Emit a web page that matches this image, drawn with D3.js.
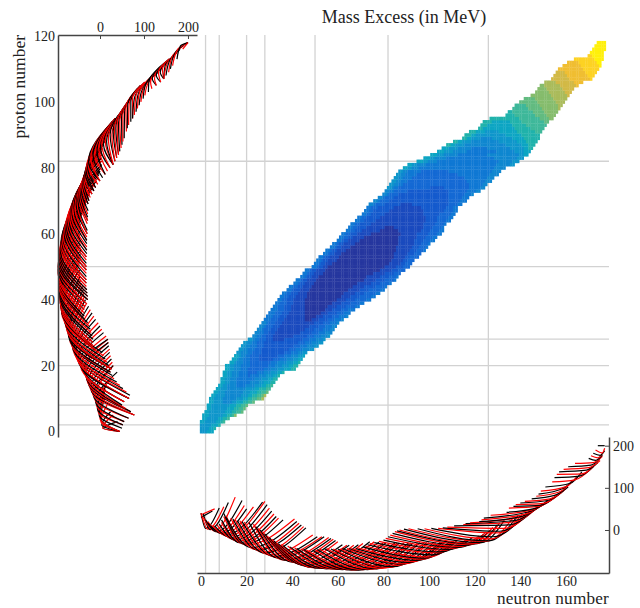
<!DOCTYPE html>
<html>
<head>
<meta charset="utf-8">
<title>Mass Excess</title>
<script src="https://d3js.org/d3.v7.min.js"></script>
<style>
  body { margin: 0; background: #fff; }
  text { font-family: "Liberation Serif", serif; fill: #222; }
</style>
</head>
<body>
<div id="chart"></div>
<script>
"use strict";
// Magic numbers get the grey grid lines
var magicNeutrons = [2, 8, 20, 28, 50, 82, 126];
var magicProtons = [2, 8, 20, 28, 50, 82];
var neutronTicks = [0, 20, 40, 60, 80, 100, 120, 140, 160];
var protonTicks = [0, 20, 40, 60, 80, 100, 120];
var massTicks = [0, 100, 200];

// Mass excess (MeV) of each colour band of the map
var bandMass = [-78, -62, -47, -32, -17, -2, 13, 28, 43, 60, 80, 100, 120, 140, 160, 180, 200];
var bandColor = ["#26379f", "#1a4abe", "#145acd", "#1469d4", "#0f78d4", "#0f87d0", "#0e96cb", "#0ca5c3",
    "#20b2ab", "#3eb89a", "#62bb80", "#85bc6c", "#aabb5a", "#d2b946", "#f0be32", "#fdd223", "#fff00a"];

// One row per proton number: first neutron number, then pairs (band, last neutron number of that band)
var heatRows = [
    [0, 6,2, 7,5],
    [0, 6,3, 7,5, 8,6],
    [0, 6,4, 7,7, 8,8],
    [0, 7,1, 6,6, 7,8, 8,9, 9,10],
    [1, 7,2, 6,7, 7,9, 8,11, 9,12],
    [1, 7,3, 6,9, 7,11, 8,13, 9,14, 11,15],
    [2, 7,3, 6,10, 7,13, 8,15, 9,17, 10,18],
    [3, 7,4, 6,11, 7,14, 8,16, 9,18, 10,19],
    [3, 7,4, 6,12, 7,15, 8,17, 9,19, 10,20],
    [4, 7,5, 6,9, 5,13, 6,15, 7,18, 8,20, 9,22, 10,23],
    [4, 7,5, 6,9, 5,15, 6,18, 7,20, 8,22, 9,24, 10,26, 12,27],
    [5, 7,6, 6,10, 5,17, 6,20, 7,22, 8,24, 9,26, 10,27, 12,28],
    [6, 7,7, 6,10, 5,18, 6,21, 7,24, 8,26, 9,28, 10,29],
    [7, 7,8, 6,11, 5,19, 6,23, 7,25, 8,28, 9,30],
    [8, 7,9, 6,11, 5,15, 4,19, 5,23, 6,26, 7,28, 8,30, 9,31],
    [9, 7,10, 6,12, 5,15, 4,21, 5,25, 6,27, 7,30, 8,32],
    [9, 7,10, 6,12, 5,15, 4,23, 5,26, 6,29, 7,31, 8,33],
    [10, 7,11, 6,13, 5,16, 4,20, 3,21, 4,25, 5,28, 6,31, 7,33, 8,34],
    [10, 7,11, 6,13, 5,16, 4,20, 3,24, 4,27, 5,30, 6,33, 7,35, 8,36],
    [11, 7,12, 6,14, 5,17, 4,20, 3,27, 4,30, 5,33, 6,36, 7,39, 8,41],
    [11, 7,12, 6,14, 5,17, 4,21, 3,29, 4,32, 5,35, 6,38, 7,40, 8,42],
    [13, 7,14, 6,15, 5,18, 4,21, 3,30, 4,33, 5,37, 6,40, 7,42, 8,43],
    [14, 7,15, 6,16, 5,18, 4,21, 3,25, 2,31, 3,34, 4,37, 5,40, 6,42, 7,44],
    [15, 7,16, 6,17, 5,19, 4,21, 3,25, 2,33, 3,36, 4,39, 5,42, 6,44, 7,45],
    [16, 6,17, 5,20, 4,22, 3,26, 2,36, 3,39, 4,42, 5,44, 6,46],
    [17, 6,18, 5,20, 4,23, 3,26, 2,38, 3,41, 4,44, 5,47, 6,49],
    [18, 6,19, 5,21, 4,24, 3,27, 2,40, 3,43, 4,46, 5,49, 6,51],
    [19, 6,20, 5,22, 4,24, 3,27, 2,42, 3,45, 4,48, 5,51, 6,53],
    [21, 6,22, 5,23, 4,25, 3,28, 2,31, 1,36, 2,44, 3,47, 4,50, 5,53, 6,54],
    [23, 5,24, 4,26, 3,28, 2,31, 1,40, 2,46, 3,49, 4,52, 5,55, 6,56],
    [24, 5,25, 4,27, 3,29, 2,32, 1,43, 2,48, 3,51, 4,54, 5,57],
    [25, 5,26, 4,27, 3,30, 2,33, 1,45, 2,49, 3,53, 4,56, 5,58],
    [26, 5,27, 4,28, 3,31, 2,34, 1,47, 2,51, 3,54, 4,57, 5,59],
    [27, 5,28, 4,29, 3,32, 2,35, 1,49, 2,53, 3,56, 4,59, 5,60],
    [28, 4,30, 3,33, 2,36, 1,45, 0,48, 1,51, 2,55, 3,58, 4,61, 5,62],
    [29, 4,31, 3,34, 2,37, 1,45, 0,50, 1,53, 2,57, 3,60, 4,63, 5,64],
    [30, 4,32, 3,35, 2,38, 1,45, 0,52, 1,55, 2,59, 3,62, 4,65],
    [31, 4,33, 3,36, 2,39, 1,45, 0,54, 1,57, 2,61, 3,64, 4,67],
    [32, 4,33, 3,36, 2,39, 1,45, 0,55, 1,59, 2,63, 3,67, 4,69],
    [33, 4,34, 3,37, 2,40, 1,45, 0,57, 1,61, 2,65, 3,69, 4,71],
    [34, 4,35, 3,37, 2,40, 1,45, 0,59, 1,63, 2,67, 3,72, 4,74],
    [35, 4,36, 3,38, 2,41, 1,46, 0,61, 1,65, 2,69, 3,74, 4,76],
    [36, 4,37, 3,39, 2,42, 1,46, 0,62, 1,67, 2,71, 3,76, 4,78],
    [38, 4,39, 3,40, 2,43, 1,47, 0,64, 1,69, 2,73, 3,78, 4,80],
    [39, 4,40, 3,42, 2,44, 1,48, 0,66, 1,71, 2,76, 3,80, 4,81],
    [41, 4,42, 3,43, 2,45, 1,49, 0,68, 1,74, 2,78, 3,82, 4,83],
    [42, 4,43, 3,44, 2,46, 1,50, 0,71, 1,76, 2,80, 3,84, 4,85],
    [44, 4,45, 3,46, 2,48, 1,51, 0,72, 1,78, 2,82, 3,85, 4,86],
    [45, 4,46, 3,47, 2,49, 1,53, 0,75, 1,80, 2,84, 3,87],
    [46, 4,47, 3,48, 2,50, 1,54, 0,78, 1,83, 2,86, 3,89],
    [49, 4,50, 3,51, 2,53, 1,55, 0,80, 1,85, 2,88, 3,91],
    [50, 4,51, 3,52, 2,54, 1,57, 0,82, 1,87, 2,89, 3,92],
    [51, 4,52, 3,53, 2,55, 1,59, 0,83, 1,88, 2,90, 3,93],
    [52, 4,53, 3,54, 2,56, 1,60, 0,84, 1,89, 2,91, 3,95],
    [54, 4,55, 3,56, 2,58, 1,61, 0,84, 1,90, 2,93, 3,96],
    [55, 4,56, 3,57, 2,59, 1,63, 0,85, 1,91, 2,94, 3,97, 4,98],
    [57, 4,58, 3,59, 2,61, 1,65, 0,85, 1,92, 2,95, 3,98, 4,99],
    [58, 4,59, 3,60, 2,62, 1,67, 0,86, 1,93, 2,96, 3,99, 4,100],
    [60, 4,61, 3,62, 2,64, 1,69, 0,86, 1,93, 2,97, 3,100, 4,102],
    [61, 4,62, 3,64, 2,66, 1,71, 0,86, 1,94, 2,98, 3,101, 4,103],
    [62, 4,63, 3,65, 2,68, 1,74, 0,87, 1,94, 2,99, 3,103, 4,105],
    [64, 4,65, 3,67, 2,70, 1,78, 0,86, 1,96, 2,100, 3,104, 4,106],
    [65, 4,66, 3,68, 2,72, 1,80, 0,84, 1,97, 2,101, 3,105, 4,106],
    [66, 4,67, 3,69, 2,74, 1,97, 2,102, 3,106, 4,107],
    [68, 4,69, 3,71, 2,76, 1,98, 2,103, 3,107, 4,109],
    [69, 4,70, 3,72, 2,78, 1,98, 2,103, 3,108, 4,110],
    [71, 4,72, 3,74, 2,80, 1,97, 2,104, 3,109, 4,111],
    [72, 4,73, 3,75, 2,82, 1,97, 2,106, 3,110, 4,112],
    [73, 4,74, 3,77, 2,84, 1,96, 2,107, 3,110, 4,112],
    [74, 5,75, 4,76, 3,80, 2,87, 1,92, 2,108, 3,112, 4,114],
    [76, 5,77, 4,78, 3,82, 2,108, 3,113, 4,116],
    [78, 5,79, 4,80, 3,84, 2,108, 3,114, 4,117],
    [80, 5,81, 4,82, 3,86, 2,108, 3,115, 4,118, 5,119],
    [81, 5,82, 4,84, 3,90, 2,108, 3,116, 4,120, 5,122],
    [82, 6,83, 5,84, 4,86, 3,100, 2,106, 3,117, 4,122, 5,124],
    [83, 6,84, 5,86, 4,88, 3,117, 4,123, 5,125],
    [84, 6,85, 5,87, 4,90, 3,116, 4,124, 5,127],
    [85, 6,86, 5,88, 4,92, 3,115, 4,125, 5,128],
    [86, 6,87, 5,89, 4,94, 3,112, 4,126, 5,130],
    [87, 6,88, 5,90, 4,96, 3,108, 4,127, 5,131],
    [89, 7,90, 6,92, 5,95, 4,128, 5,133],
    [91, 7,92, 6,94, 5,98, 4,129, 5,135, 6,137],
    [95, 7,97, 6,99, 5,103, 4,130, 5,136, 6,139],
    [98, 7,100, 6,102, 5,107, 4,128, 5,138, 6,141],
    [101, 7,103, 6,106, 5,112, 4,125, 5,139, 6,141, 7,143],
    [104, 7,106, 6,110, 5,116, 4,129, 5,137, 6,141, 7,144],
    [106, 7,108, 6,112, 5,118, 4,125, 5,135, 6,141, 7,143, 8,145],
    [108, 8,109, 7,111, 6,115, 5,133, 6,140, 7,143, 8,146],
    [111, 8,112, 7,114, 6,118, 5,130, 6,138, 7,142, 8,147],
    [115, 8,116, 7,118, 6,122, 5,127, 6,136, 7,141, 8,148],
    [116, 8,118, 7,120, 6,133, 7,140, 8,148],
    [118, 8,120, 7,124, 6,130, 7,138, 8,146, 9,149],
    [122, 8,123, 7,137, 8,144, 9,150],
    [123, 8,125, 7,136, 8,142, 9,151],
    [124, 8,127, 7,135, 8,140, 9,150, 10,152],
    [127, 8,139, 9,148, 10,152, 11,154],
    [134, 8,137, 9,146, 10,151, 11,155],
    [135, 8,136, 9,145, 10,150, 11,156],
    [137, 9,143, 10,149, 11,156, 12,157],
    [138, 9,142, 10,148, 11,156, 12,158],
    [140, 10,147, 11,155, 12,159],
    [142, 10,146, 11,154, 12,160],
    [145, 11,153, 12,160, 13,161],
    [147, 11,152, 12,159, 13,162],
    [148, 11,151, 12,158, 13,163],
    [149, 11,150, 12,157, 13,164, 14,165],
    [151, 12,155, 13,163, 14,167],
    [154, 13,161, 14,170, 15,171],
    [155, 13,160, 14,169, 15,172],
    [156, 13,159, 14,168, 15,173],
    [157, 14,167, 15,174],
    [159, 14,166, 15,174, 16,175],
    [161, 14,165, 15,173, 16,175],
    [164, 15,172, 16,176],
    [170, 15,171, 16,176],
    [171, 16,176],
    [172, 16,177],
    [173, 16,177],
    [174, 16,177]
];

// Mass excess at the neutron-poor and neutron-rich end of each proton number row
var edgeMassLeft = [30, 36, 40, 40, 38, 30, 24, 20, 16, 12, 10, 10, 10, 12, 14, 18, 24, 32, 39, 34,
    30, 28, 26, 24, 22, 22, 20, 19, 18, 14, 8, 4, 0, -4, -10, -14, -18, -22, -26, -30,
    -33, -35, -37, -38, -40, -42, -44, -45, -46, -47, -48, -47, -46, -45, -44, -44, -45, -45, -45, -45,
    -44, -44, -44, -44, -44, -43, -40, -38, -35, -32, -30, -27, -24, -20, -16, -12, -8, -4, -2, 0,
    2, 3, 3, 3, 4, 4, 5, 7, 10, 13, 15, 17, 20, 24, 28, 35, 42, 52, 56, 60,
    64, 68, 74, 80, 85, 92, 102, 114, 124, 132, 138, 144, 150, 158, 170, 176, 182, 190, 200];
var edgeMassRight = [45, 50, 52, 55, 65, 78, 70, 58, 50, 55, 66, 68, 60, 52, 45, 38, 32, 28, 24, 26,
    20, 16, 12, 8, 5, -12, -16, -16, -16, -18, -20, -22, -25, -28, -35, -36, -36, -36, -35, -32,
    -28, -28, -29, -30, -31, -31, -31, -31, -31, -31, -31, -31, -31, -31, -30, -30, -30, -30, -30, -30,
    -29, -29, -29, -29, -28, -28, -28, -27, -27, -27, -25, -22, -18, -14, -10, -5, 0, 6, 12, 17,
    23, 30, 34, 38, 42, 45, 48, 50, 52, 55, 57, 60, 62, 65, 70, 74, 78, 82, 85, 89,
    93, 98, 102, 110, 118, 128, 138, 145, 150, 156, 160, 165, 170, 175, 178, 182, 188, 194, 200];

// Bottom of the valley for each neutron number: proton number and mass excess
var valleyZ = [1, 1, 2, 3, 4, 4, 5, 6, 7, 8, 9, 10, 11, 12, 13, 14, 15, 16, 17, 18, 19,
    19, 20, 20, 21, 22, 22, 23, 24, 24, 25, 25, 26, 27, 28, 28, 29, 30, 30, 31, 32,
    32, 33, 33, 34, 35, 36, 36, 37, 38, 39, 39, 40, 40, 41, 42, 42, 43, 43, 44, 45,
    45, 46, 46, 47, 47, 48, 48, 49, 50, 50, 51, 51, 52, 52, 53, 53, 54, 54, 55, 55,
    56, 57, 57, 58, 58, 59, 59, 60, 61, 61, 62, 62, 63, 63, 64, 64, 65, 66, 66, 67,
    67, 68, 68, 69, 70, 70, 71, 71, 72, 72, 73, 73, 74, 75, 75, 76, 76, 77, 77, 78,
    79, 79, 80, 80, 81, 82, 83, 84, 84, 85, 86, 86, 87, 87, 88, 88, 89, 90, 90, 91,
    92, 92, 93, 93, 94, 95, 96, 97, 98, 99, 99, 100, 101, 101, 102, 102, 103, 103, 104, 105,
    105, 106, 106, 107, 107, 108, 109, 109, 110, 111, 112, 113, 114, 115, 116, 117, 118];
var valleyMass = [8, 6, 4, 2, 1, 0, -2, -4, -6, -8, -10, -12, -15, -18, -21, -24, -27, -30, -32, -34, -36,
    -39, -42, -44, -46, -48, -50, -53, -55, -57, -59, -61, -63, -65, -67, -69, -71, -72, -73, -74, -76,
    -77, -78, -79, -81, -83, -85, -87, -88, -89, -90, -90, -91, -91, -91, -92, -92, -92, -93, -93, -93,
    -93, -94, -94, -94, -94, -95, -95, -95, -95, -95, -94, -94, -94, -93, -93, -92, -92, -91, -91, -90,
    -89, -89, -88, -87, -85, -84, -83, -81, -80, -78, -77, -76, -75, -73, -72, -70, -69, -67, -66, -64,
    -62, -59, -57, -54, -52, -50, -48, -47, -46, -44, -43, -42, -41, -39, -38, -37, -36, -35, -34, -33,
    -32, -31, -30, -28, -27, -26, -21, -16, -12, -7, -3, 1, 4, 8, 12, 15, 19, 23, 27, 30,
    33, 36, 39, 42, 45, 49, 52, 56, 59, 63, 66, 70, 74, 78, 82, 86, 90, 94, 99, 103,
    107, 111, 115, 119, 124, 128, 133, 137, 142, 148, 154, 160, 165, 171, 177, 183, 190];

var width = 640, height = 608;
var svg = d3.select("#chart").append("svg")
    .attr("width", width)
    .attr("height", height)
    .style("display", "block");

// Domains run past the ticks so that the axis lines reach the panel corners
var xN = d3.scaleLinear().domain([-1.75, 178.9]).range([197, 609]);
var yZ = d3.scaleLinear().domain([-1.67, 120.3]).range([437, 35]);
var xMass = d3.scaleLinear().domain([-95.5, 220.5]).range([58, 197]);
var yMass = d3.scaleLinear().domain([-102, 220.6]).range([573, 437]);
var heatColor = d3.scaleLinear().domain(bandMass).range(bandColor);

// Grid
svg.append("g").selectAll("line").data(magicNeutrons).join("line")
    .attr("x1", function (d) { return xN(d); })
    .attr("x2", function (d) { return xN(d); })
    .attr("y1", 35)
    .attr("y2", 573)
    .style("stroke", "#d2d2d2")
    .style("stroke-width", 1.3);
svg.append("g").selectAll("line").data(magicProtons).join("line")
    .attr("x1", 58)
    .attr("x2", 609)
    .attr("y1", function (d) { return yZ(d); })
    .attr("y2", function (d) { return yZ(d); })
    .style("stroke", "#d2d2d2")
    .style("stroke-width", 1.3);

// Map: one rect per nucleus
var cells = [];
heatRows.forEach(function (row, z) {
    var n = row[0];
    for (var i = 1; i < row.length; i += 2) {
        for (; n <= row[i + 1]; n++) {
            cells.push({ n: n, z: z, mass: bandMass[row[i]] });
        }
    }
});
var cellW = xN(1) - xN(0);
var cellH = yZ(0) - yZ(1);
svg.append("g").selectAll("rect").data(cells).join("rect")
    .attr("x", function (d) { return xN(d.n) - cellW / 2; })
    .attr("y", function (d) { return yZ(d.z) - cellH / 2; })
    .attr("width", cellW + 0.3)
    .attr("height", cellH + 0.3)
    .attr("fill", function (d) { return heatColor(d.mass); });

// Row ends, read back from the map rows
var rowFirst = heatRows.map(function (row) { return row[0]; });
var rowLast = heatRows.map(function (row) { return row[row.length - 1]; });

function chainColor(i) {
    return i % 2 === 0 ? "#000" : "#f00";
}

// Left panel: one line per neutron number, bent at the valley
var neutronChains = valleyZ.map(function (zv, n) {
    var zs = d3.range(heatRows.length).filter(function (z) { return rowFirst[z] <= n && n <= rowLast[z]; });
    var lo = zs[0], hi = zs[zs.length - 1];
    var pts = [[edgeMassRight[lo], lo]];
    if (zv > lo && zv < hi) { pts.push([valleyMass[n], zv]); }
    pts.push([edgeMassLeft[hi], hi]);
    return pts;
});
var lineLeft = d3.line()
    .curve(d3.curveMonotoneY)
    .x(function (d) { return xMass(d[0]); })
    .y(function (d) { return yZ(d[1]); });
svg.append("g").selectAll("path").data(neutronChains).join("path")
    .attr("d", lineLeft)
    .attr("fill", "none")
    .attr("stroke", function (d, i) { return chainColor(i); })
    .attr("stroke-width", 1.2);

// Bottom panel: one line per proton number
var protonChains = heatRows.map(function (row, z) {
    var nv = valleyZ.indexOf(z);
    var pts = [[rowFirst[z], edgeMassLeft[z]]];
    if (nv > rowFirst[z] && nv < rowLast[z]) { pts.push([nv, valleyMass[nv]]); }
    pts.push([rowLast[z], edgeMassRight[z]]);
    return pts;
});
var lineBottom = d3.line()
    .curve(d3.curveMonotoneX)
    .x(function (d) { return xN(d[0]); })
    .y(function (d) { return yMass(d[1]); });
svg.append("g").selectAll("path").data(protonChains).join("path")
    .attr("d", lineBottom)
    .attr("fill", "none")
    .attr("stroke", function (d, i) { return chainColor(i); })
    .attr("stroke-width", 1.2);

// Axes
function styleAxis(g) {
    g.selectAll(".domain").style("stroke", "#444").style("stroke-width", 1.5);
    g.selectAll(".tick line").style("stroke", "#444").style("stroke-width", 1);
    g.selectAll(".tick text")
        .style("font-family", '"Liberation Serif", serif')
        .style("font-size", "14px")
        .style("fill", "#222");
}
svg.append("g").attr("transform", "translate(0,35)")
    .call(d3.axisTop(xMass).tickValues(massTicks).tickSizeOuter(0).tickSizeInner(-4).tickPadding(3))
    .call(styleAxis);
svg.append("g").attr("transform", "translate(58,0)")
    .call(d3.axisLeft(yZ).tickValues(protonTicks).tickSize(0).tickPadding(3))
    .call(styleAxis);
svg.append("g").attr("transform", "translate(0,573)")
    .call(d3.axisBottom(xN).tickValues(neutronTicks).tickSize(0).tickPadding(3))
    .call(styleAxis);
svg.append("g").attr("transform", "translate(609,0)")
    .call(d3.axisRight(yMass).tickValues(massTicks).tickSizeOuter(0).tickSizeInner(-4).tickPadding(4))
    .call(styleAxis);

// Titles
svg.append("text").attr("x", 404).attr("y", 23)
    .attr("text-anchor", "middle").style("font-size", "18px")
    .text("Mass Excess (in MeV)");
svg.append("text").attr("transform", "translate(25,35) rotate(-90)")
    .attr("text-anchor", "end").style("font-size", "17.5px")
    .text("proton number");
svg.append("text").attr("x", 609).attr("y", 604)
    .attr("text-anchor", "end").style("font-size", "17.2px").style("letter-spacing", "0.2px")
    .text("neutron number");
</script>
</body>
</html>
